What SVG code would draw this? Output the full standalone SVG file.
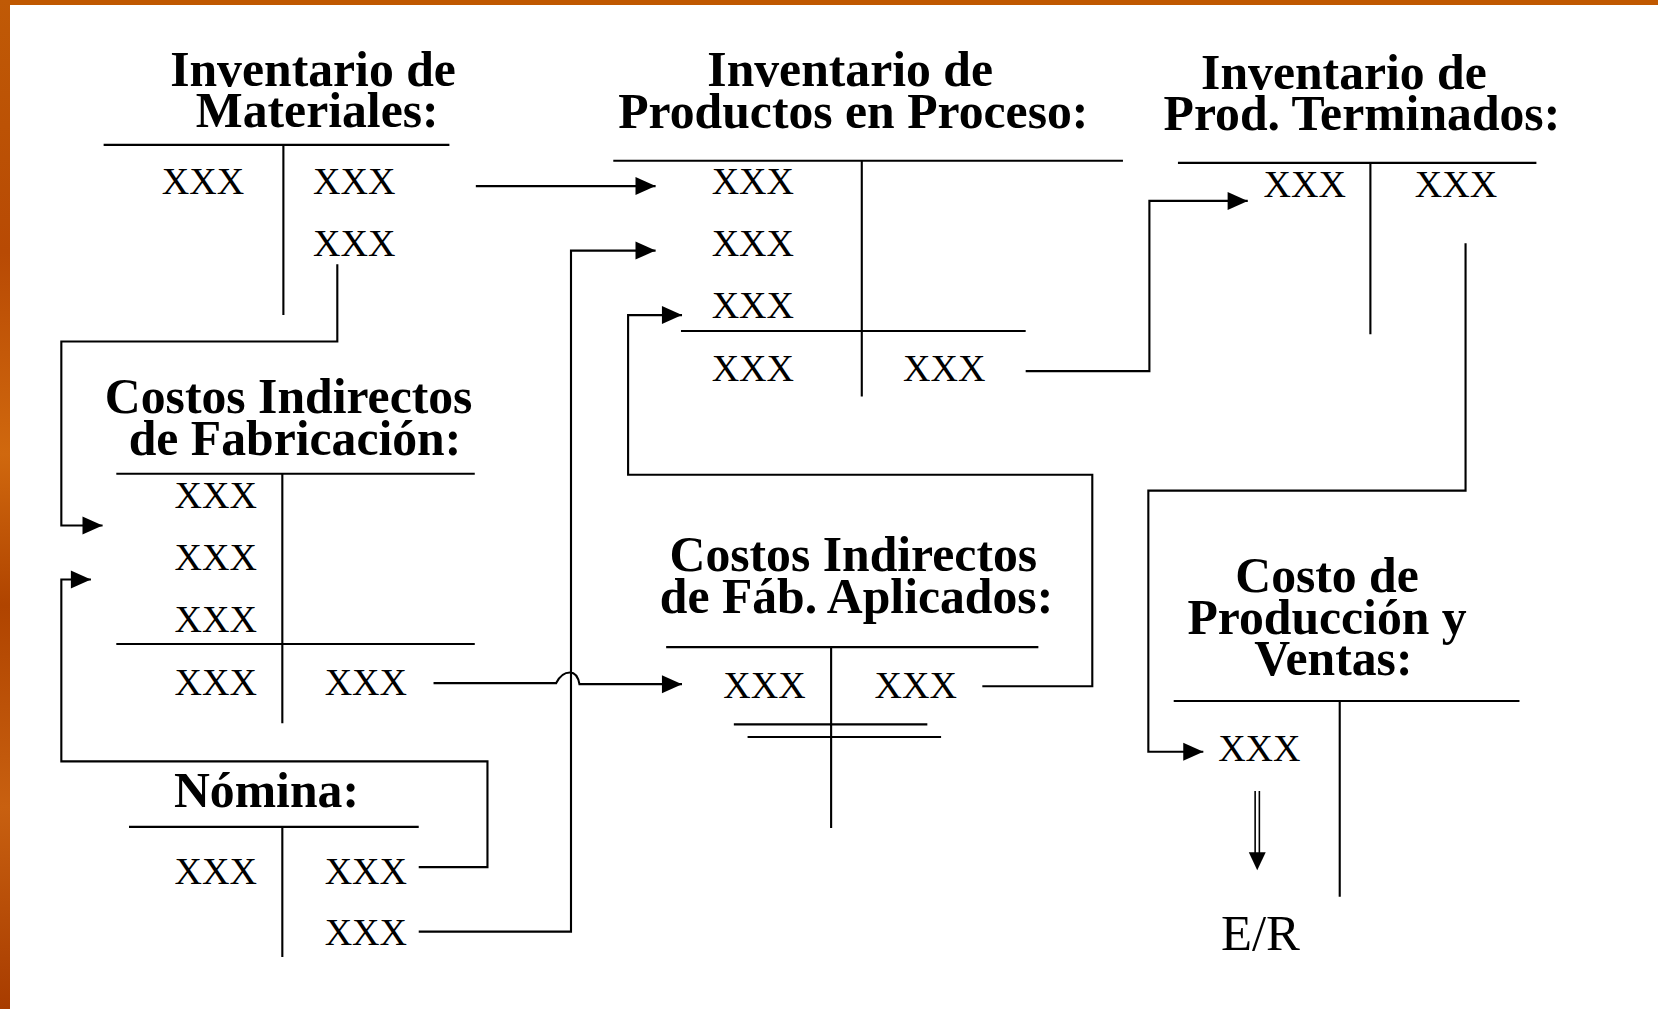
<svg xmlns="http://www.w3.org/2000/svg" width="1658" height="1009" viewBox="0 0 1658 1009">
<defs>
<linearGradient id="lg" x1="0" y1="0" x2="0" y2="1">
<stop offset="0" stop-color="#c05a06"/>
<stop offset="0.25" stop-color="#b84a04"/>
<stop offset="0.45" stop-color="#d0680e"/>
<stop offset="0.6" stop-color="#b04400"/>
<stop offset="0.8" stop-color="#c86010"/>
<stop offset="1" stop-color="#a83c00"/>
</linearGradient>
<marker id="ah" markerUnits="userSpaceOnUse" markerWidth="20" markerHeight="18" refX="19" refY="8.5" orient="auto" overflow="visible">
<path d="M0,0 L19,8.5 L0,17 z" fill="#000"/>
</marker>
<style>
.t{font-family:"Liberation Serif","Times New Roman",serif;font-weight:bold;font-size:47px;text-anchor:middle;fill:#000}
.x{font-family:"Liberation Serif","Times New Roman",serif;font-size:36px;text-anchor:middle;fill:#000}
.l{fill:none;stroke:#000;stroke-width:2}
.c{fill:none;stroke:#000;stroke-width:2}
</style>
</defs>
<rect x="0" y="0" width="1658" height="1009" fill="#fff"/>
<rect x="0" y="0" width="1658" height="5" fill="#c05800"/>
<rect x="0" y="0" width="10" height="1009" fill="url(#lg)"/>
<g transform="scale(1.0574)">
<g id="inv-materiales">
<text class="t" x="296" y="81">Inventario de</text>
<text class="t" x="300" y="120">Materiales:</text>
<path class="l" d="M98,137 H425 M268,137 V298"/>
<text class="x" x="192" y="183">XXX</text>
<text class="x" x="335" y="183">XXX</text>
<text class="x" x="335" y="242">XXX</text>
</g>
<g id="inv-proceso">
<text class="t" x="804" y="81">Inventario de</text>
<text class="t" x="807" y="121">Productos en Proceso:</text>
<path class="l" d="M580,152 H1062 M815,152 V375 M644,313 H970"/>
<text class="x" x="712" y="183">XXX</text>
<text class="x" x="712" y="242">XXX</text>
<text class="x" x="712" y="301">XXX</text>
<text class="x" x="712" y="360">XXX</text>
<text class="x" x="893" y="360">XXX</text>
</g>
<g id="inv-terminados">
<text class="t" x="1271" y="84">Inventario de</text>
<text class="t" x="1288" y="123">Prod. Terminados:</text>
<path class="l" d="M1114,154 H1453 M1296,154 V316"/>
<text class="x" x="1234" y="186">XXX</text>
<text class="x" x="1377" y="186">XXX</text>
</g>
<g id="cif">
<text class="t" x="273" y="391">Costos Indirectos</text>
<text class="t" x="279" y="430">de Fabricación:</text>
<path class="l" d="M110,448 H449 M267,448 V684 M110,609 H449"/>
<text class="x" x="204" y="480">XXX</text>
<text class="x" x="204" y="539">XXX</text>
<text class="x" x="204" y="598">XXX</text>
<text class="x" x="204" y="657">XXX</text>
<text class="x" x="346" y="657">XXX</text>
</g>
<g id="nomina">
<text class="t" x="252" y="763">Nómina:</text>
<path class="l" d="M122,782 H396 M267,782 V905"/>
<text class="x" x="204" y="836">XXX</text>
<text class="x" x="346" y="836">XXX</text>
<text class="x" x="346" y="894">XXX</text>
</g>
<g id="cif-aplicados">
<text class="t" x="807" y="540">Costos Indirectos</text>
<text class="t" x="810" y="580">de Fáb. Aplicados:</text>
<path class="l" d="M630,612 H982 M786,612 V783 M694,685 H877 M707,697 H890"/>
<text class="x" x="723" y="660">XXX</text>
<text class="x" x="866" y="660">XXX</text>
</g>
<g id="costo-ventas">
<text class="t" x="1255" y="560">Costo de</text>
<text class="t" x="1255" y="600">Producción y</text>
<text class="t" x="1261" y="638">Ventas:</text>
<path class="l" d="M1110,663 H1437 M1267,663 V848"/>
<text class="x" x="1191" y="720">XXX</text>
</g>
<g id="er">
<text class="x" x="1192" y="898" style="font-size:48px">E/R</text>
</g>
<g id="connectors">
<path class="c" d="M450,176 H620" marker-end="url(#ah)"/>
<path class="c" d="M319,250 V323 H58 V497 H97" marker-end="url(#ah)"/>
<path class="c" d="M396,820 H461 V720 H58 V548 H86" marker-end="url(#ah)"/>
<path class="c" d="M396,881 H540 V237 H620" marker-end="url(#ah)"/>
<path class="c" d="M410,646 H526 Q531,636 539,636 Q546,636 548,647 H645" marker-end="url(#ah)"/>
<path class="c" d="M929,649 H1033 V449 H594 V298 H645" marker-end="url(#ah)"/>
<path class="c" d="M970,351 H1087 V190 H1180" marker-end="url(#ah)"/>
<path class="c" d="M1386,230 V464 H1086 V711 H1138" marker-end="url(#ah)"/>
<path class="c" d="M1187,748 V808 M1191,748 V808" style="stroke-width:1.5"/>
<path d="M1181,806 L1197,806 L1189,823 z" fill="#000"/>
</g>
</g>
</svg>
